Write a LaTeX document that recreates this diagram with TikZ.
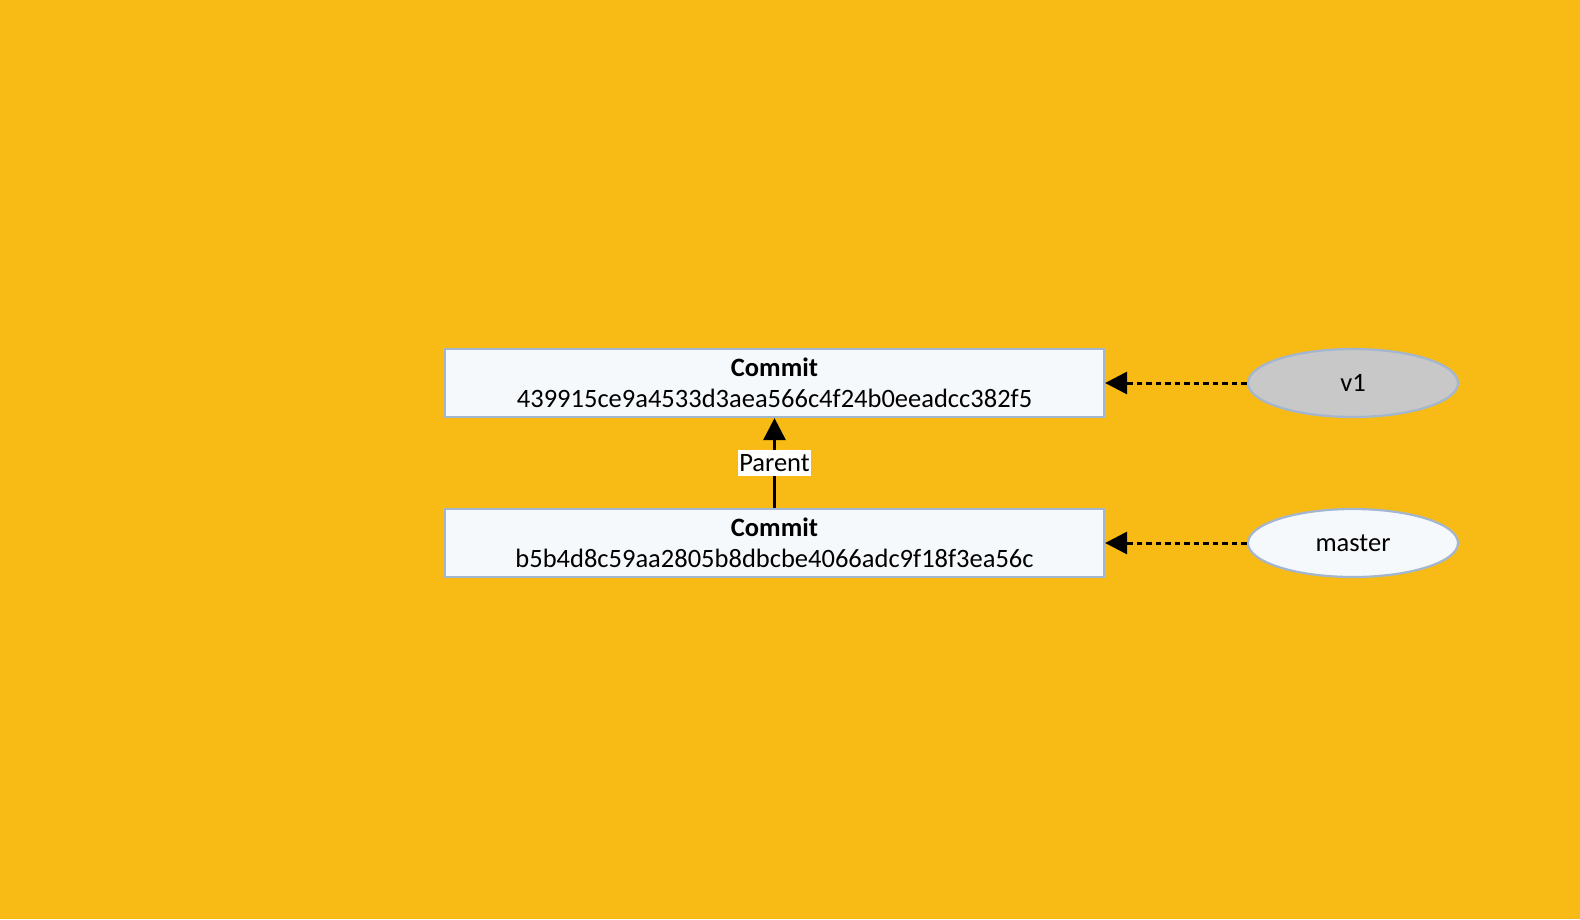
\documentclass[tikz,border=0pt]{standalone}
\usepackage{fontspec}
\setmainfont{Carlito}
\usetikzlibrary{arrows.meta, positioning, shapes.geometric}
\definecolor{bgyellow}{HTML}{F8BB16}
\definecolor{boxline}{HTML}{A3B6CF}
\definecolor{boxfill}{HTML}{F6F9FC}
\definecolor{taggray}{HTML}{C8C8C8}

\begin{document}
\begin{tikzpicture}[
    x=1pt, y=-1pt,
    commit/.style={rectangle, draw=boxline, line width=2.2pt,
                   fill=boxfill, minimum width=659pt, minimum height=68pt,
                   inner sep=0pt, align=center, font=\fontsize{26.5}{31.5}\selectfont},
    ref/.style={ellipse, draw=boxline, line width=2.2pt,
                minimum width=210pt, minimum height=68pt,
                inner sep=0pt, font=\fontsize{26.5}{31}\selectfont},
    parentarr/.style={-{Triangle[length=22pt, width=22pt]}, line width=3pt},
    refarr/.style={-{Triangle[length=22pt, width=22pt]}, line width=3pt,
                   dash pattern=on 5.5pt off 4pt},
]
  \fill[bgyellow] (0,0) rectangle (1580,919);
  \useasboundingbox (0,0) rectangle (1580,919);

  \node[commit] (c1) at (774.5, 383)
    {\textbf{Commit}\\439915ce9a4533d3aea566c4f24b0eeadcc382f5};
  \node[commit] (c2) at (774.5, 543)
    {\textbf{Commit}\\b5b4d8c59aa2805b8dbcbe4066adc9f18f3ea56c};

  \node[ref, fill=taggray] (v1)     at (1353, 383) {v1};
  \node[ref, fill=boxfill] (master) at (1353, 543) {master};

  \draw[parentarr] (c2.north) -- node[fill=white, inner xsep=1.5pt, inner ysep=4pt,
        font=\fontsize{26.5}{31}\selectfont] (plabel) {Parent} (c1.south);

  \draw[refarr] (v1.west) -- (c1.east);
  \draw[refarr] (master.west) -- (c2.east);

\end{tikzpicture}
\end{document}
